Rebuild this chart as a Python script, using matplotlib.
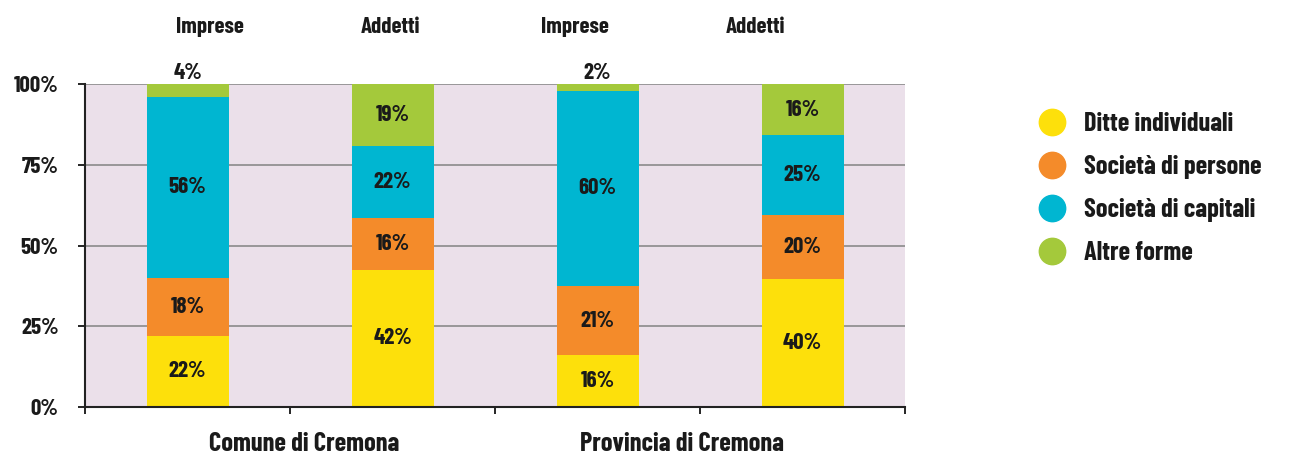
import matplotlib
matplotlib.use("Agg")
import matplotlib.pyplot as plt
from matplotlib.lines import Line2D
from matplotlib import font_manager as fm

names = {f.name for f in fm.fontManager.ttflist}
FONT = "Barlow Condensed" if "Barlow Condensed" in names else "DejaVu Sans"
W = 700

groups = ["Comune di Cremona", "Provincia di Cremona"]
bar_labels = ["Imprese", "Addetti", "Imprese", "Addetti"]
series = ["Ditte individuali", "Società di persone", "Società di capitali", "Altre forme"]
ditte = [22, 42, 16, 40]
persone = [18, 16, 21, 20]
capitali = [56, 22, 60, 25]
altre = [4, 19, 2, 16]
yticks = [0, 25, 50, 75, 100]
ytick_labels = ["0%", "25%", "50%", "75%", "100%"]

colors = ["#FDE00B", "#F48B2A", "#00B6D1", "#A4C93B"]
bg = "#EBE0EA"
TXT = "#1a1a1a"
FS = 16.5

fig = plt.figure(figsize=(12.93, 4.54), dpi=100)
ax = fig.add_axes([85/1293, 1-407/454, (905-85)/1293, (407-84)/454])
ax.set_facecolor(bg)

data = [ditte, persone, capitali, altre]
n = len(bar_labels)
xs = [i + 0.5 for i in range(n)]
totals = [sum(d[i] for d in data) for i in range(n)]
bottoms = [0.0] * n
for s, vals, c in zip(series, data, colors):
    pct = [v / t * 100 for v, t in zip(vals, totals)]
    ax.bar(xs, pct, width=0.4, bottom=bottoms, color=c, zorder=3, label=s)
    for x, b, p, v in zip(xs, bottoms, pct, vals):
        if p < 6:
            ax.text(x, b + p + 0.3, f"{v}%", ha="center", va="bottom",
                    fontsize=FS, fontweight=W, family=FONT, zorder=5, color=TXT)
        else:
            ax.text(x, b + p / 2, f"{v}%", ha="center", va="center",
                    fontsize=FS, fontweight=W, family=FONT, zorder=5, color=TXT)
    bottoms = [b + p for b, p in zip(bottoms, pct)]

ax.set_xlim(0, n)
ax.set_ylim(0, 100)
ax.set_yticks(yticks)
ax.set_yticklabels(ytick_labels, fontsize=FS, fontweight=W, family=FONT, color=TXT)
ax.set_xticks(range(n + 1))
ax.set_xticklabels([])
ax.tick_params(axis="y", length=5, width=1.2, pad=14)
ax.tick_params(axis="x", length=5, width=1.2, direction="out")
ax.grid(axis="y", color="#8a8a8a", linewidth=1.2, zorder=1)
for sp in ["top", "right"]:
    ax.spines[sp].set_visible(False)
for sp in ["left", "bottom"]:
    ax.spines[sp].set_linewidth(1.5)
    ax.spines[sp].set_color("#222222")
    ax.spines[sp].set_zorder(4)

header_pos = [0.61, 1.49, 2.39, 3.27]
for hx, lab in zip(header_pos, bar_labels):
    ax.text(hx, 1.175, lab, transform=ax.get_xaxis_transform(), ha="center", va="center",
            fontsize=FS, fontweight=W, family=FONT, color=TXT)

group_pos = [1.07, 2.91]
for gx, g in zip(group_pos, groups):
    ax.text(gx, -0.115, g, transform=ax.get_xaxis_transform(), ha="center", va="center",
            fontsize=19, fontweight=W, family=FONT, color=TXT)

handles = [Line2D([], [], marker="o", linestyle="none", markersize=19,
                  markerfacecolor=c, markeredgecolor=c) for c in colors]
leg = fig.legend(handles, series, loc="upper left", bbox_to_anchor=(1002/1293, 1-88/454),
                 frameon=False, handletextpad=0.2, labelspacing=0.72,
                 prop={"family": FONT, "weight": W, "size": 19})
for t in leg.get_texts():
    t.set_color(TXT)

fig.savefig("out.png", dpi=100)
